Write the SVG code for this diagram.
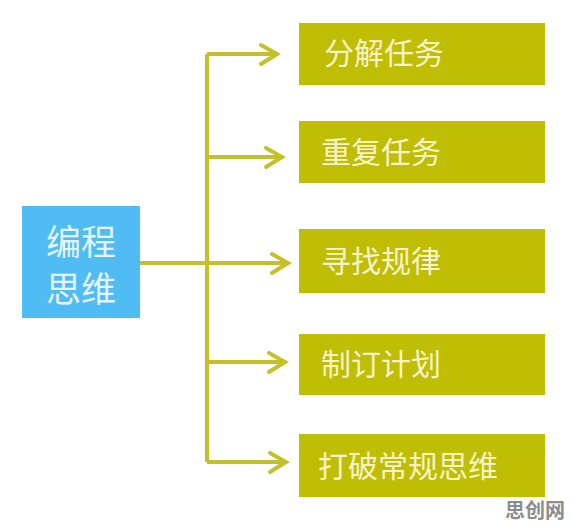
<svg xmlns="http://www.w3.org/2000/svg" width="573" height="528" viewBox="0 0 573 528">
<style>
.box{fill:#bfbd04}
.lbl{font-family:"Noto Sans CJK SC","Noto Sans",sans-serif;font-size:30px;fill:#f7f3c8}
.main{font-family:"Noto Sans CJK SC","Noto Sans",sans-serif;font-size:35px;fill:#e6f5fc}
.ln{stroke:#c3c02a;stroke-width:4;fill:none}
.ah{stroke:#c3c02a;stroke-width:4;fill:none;stroke-linecap:round;stroke-linejoin:miter}
.wm{font-family:"Noto Sans CJK SC",sans-serif;font-size:20px;font-weight:bold;fill:#8c8c8c}
</style>
<rect width="573" height="528" fill="#ffffff"/>
<g id="connectors">
<path class="ln" d="M140 263 H286"/>
<path class="ln" d="M207 54 V462"/>
<path class="ln" d="M207 54 H275"/>
<path class="ln" d="M207 157 H280"/>
<path class="ln" d="M207 362 H283"/>
<path class="ln" d="M207 462 H284"/>
<path class="ah" d="M261 45 L277 54 L261 64"/>
<path class="ah" d="M266 148 L282 157 L266 167"/>
<path class="ah" d="M272 254 L288 263 L272 273"/>
<path class="ah" d="M269 353 L285 362 L269 372"/>
<path class="ah" d="M270 453 L286 462 L270 472"/>
</g>
<g id="node-main">
<rect x="22" y="206" width="118" height="112" fill="#4fbdf3"/>
<text class="main" x="81" y="255" text-anchor="middle">编程</text>
<text class="main" x="81" y="302" text-anchor="middle">思维</text>
</g>
<g id="node-1">
<rect class="box" x="299" y="23" width="246" height="62"/>
<text class="lbl" x="324" y="64">分解任务</text>
</g>
<g id="node-2">
<rect class="box" x="299" y="121" width="246" height="62"/>
<text class="lbl" x="321" y="163">重复任务</text>
</g>
<g id="node-3">
<rect class="box" x="299" y="229" width="246" height="64"/>
<text class="lbl" x="321" y="272">寻找规律</text>
</g>
<g id="node-4">
<rect class="box" x="299" y="334" width="246" height="61"/>
<text class="lbl" x="321" y="375">制订计划</text>
</g>
<g id="node-5">
<rect class="box" x="299" y="434" width="246" height="63"/>
<text class="lbl" x="318" y="477">打破常规思维</text>
</g>
<text class="wm" x="505" y="518">思创网</text>
</svg>
